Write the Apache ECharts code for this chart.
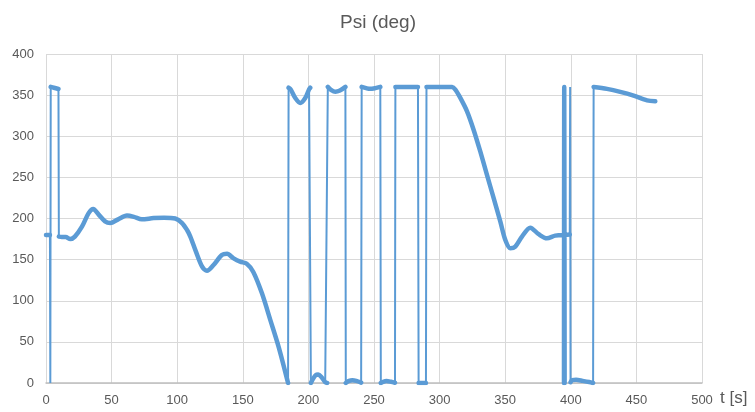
<!DOCTYPE html>
<html>
<head>
<meta charset="utf-8">
<title>Psi (deg)</title>
<script src="https://cdn.jsdelivr.net/npm/echarts@6/dist/echarts.min.js"></script>
<style>
  html, body { margin: 0; padding: 0; background: #ffffff; }
  #chart { width: 755px; height: 412px; }
</style>
</head>
<body>
<div id="chart"></div>
<script>
// Heading angle psi [deg] against time t [s]; the angle wraps between 0 and 360.
// Each run is a continuous stretch of the trace; single points are wrap vertices.
const run01 = [[0, 180], [3, 180]];
const wrap01 = [[3.3, 0]];
const run02 = [[3.6, 360], [6, 359], [9.5, 357.5]];
const run03 = [[9.8, 178], [12, 177.5], [15, 177.5], [18.5, 175], [22, 178], [27.4, 190],
  [32.5, 206.5], [36, 211.5], [40, 205], [45, 196.5], [49, 194.5], [55, 199], [61.7, 203.5],
  [67, 202], [73, 199], [82, 200.5], [90, 201], [98.5, 200], [103.7, 194.5], [107.5, 186],
  [110, 178], [114, 161], [119, 141.5], [122.7, 136.5], [127.7, 143.5], [134, 155.5],
  [138, 157], [143, 151.5], [148, 147.5], [153, 145], [158, 135], [164.6, 109],
  [171, 76.5], [177.3, 44], [184.5, 0]];
const run04 = [[184.9, 359], [186.5, 357], [190, 346.5], [193.8, 340.5], [197.6, 346.5], [200.5, 357], [201.4, 359]];
const run05 = [[201.9, 0], [203.5, 5], [205.5, 9.5], [207.5, 10.2], [210, 7], [212.8, 1], [214.3, 0]];
const run06 = [[214.8, 360], [217.5, 356], [220.5, 354], [224, 355.5], [228.2, 360]];
const run07 = [[228.5, 0], [231, 2.5], [233.5, 3.3], [236.5, 2.6], [240.2, 0.5]];
const run08 = [[240.6, 360], [244, 358.5], [247, 357.6], [251, 358.5], [254.8, 360]];
const run09 = [[255.2, 0], [257, 1.5], [259.5, 2.4], [263, 1.5], [266, 0.3]];
const run10 = [[266.3, 360], [275, 360], [283.5, 360]];
const run11 = [[284, 0], [287, 0], [289.6, 0]];
const run12 = [[290, 360], [300, 360], [309.5, 359.8], [312, 356.7], [315.8, 346.6],
  [320.9, 330.3], [325.9, 308], [331, 281.5], [336.1, 253.1], [341.2, 224.7],
  [346.3, 196.2], [350.1, 173.9], [353.9, 163.8], [357.7, 165.8], [362.8, 178],
  [369.1, 188.9], [375.5, 180.9], [381.8, 175.9], [388.2, 179.2], [394.5, 180]];
const wrap02 = [[394.8, 0], [395.0, 360], [395.3, 0]];
const run13 = [[395.6, 180], [399.2, 180.5]];
const wrap03 = [[399.5, 360]];
const run14 = [[399.8, 1], [401, 3.5], [404, 3.8], [409, 2.6], [414, 1.2], [417, 0]];
const run15 = [[417.4, 360], [427.6, 357.6], [437.7, 354], [447.9, 349.4], [458.1, 343.7], [464.4, 342.5]];

const trace = [run01, wrap01, run02, run03, run04, run05, run06, run07, run08, run09,
  run10, run11, run12, wrap02, run13, wrap03, run14, run15];

const xTicks = { min: 0, max: 500, step: 50 };
const yTicks = { min: 0, max: 400, step: 50 };

// Thin line through every point in order (shows the wrap jumps)
const fullPath = [].concat(...trace);
// Thick smoothed stretches, broken between runs
const runPath = [];
trace.filter(r => r.length > 1).forEach((r, i) => {
  if (i > 0) runPath.push(['-', '-']);
  r.forEach(p => runPath.push(p));
});

const BLUE = '#5B9BD5';
const TEXT = '#595959';
const FONT = '"Liberation Sans", Arial, sans-serif';

const chart = echarts.init(document.getElementById('chart'), null, { renderer: 'canvas' });
chart.setOption({
  animation: false,
  backgroundColor: '#ffffff',
  title: {
    text: 'Psi (deg)',
    left: 373,
    top: 8,
    textAlign: 'center',
    textStyle: { fontFamily: FONT, fontSize: 19, fontWeight: 'normal', color: TEXT }
  },
  grid: { left: 46, right: 53, top: 54, bottom: 29 },
  xAxis: {
    type: 'value',
    min: xTicks.min, max: xTicks.max, interval: xTicks.step,
    name: 't [s]',
    nameLocation: 'end',
    nameGap: 18,
    nameTextStyle: { fontFamily: FONT, fontSize: 17, color: TEXT, verticalAlign: 'top', padding: [7, 0, 0, 0] },
    axisLine: { show: true, lineStyle: { color: '#BFBFBF', width: 1.5 } },
    axisTick: { show: false },
    axisLabel: { fontFamily: FONT, fontSize: 13, color: TEXT, margin: 11 },
    splitLine: { show: true, lineStyle: { color: '#D9D9D9', width: 1 } }
  },
  yAxis: {
    type: 'value',
    min: yTicks.min, max: yTicks.max, interval: yTicks.step,
    axisLine: { show: false },
    axisTick: { show: false },
    axisLabel: { fontFamily: FONT, fontSize: 13, color: TEXT, margin: 12 },
    splitLine: { show: true, lineStyle: { color: '#D9D9D9', width: 1 } }
  },
  series: [
    {
      type: 'line',
      data: fullPath,
      symbol: 'none',
      smooth: false,
      lineStyle: { color: BLUE, width: 2 },
      z: 3
    },
    {
      type: 'line',
      data: runPath,
      symbol: 'none',
      smooth: 0.3,
      connectNulls: false,
      lineStyle: { color: BLUE, width: 4.5, cap: 'round', join: 'round' },
      z: 4
    }
  ]
});
</script>
</body>
</html>
